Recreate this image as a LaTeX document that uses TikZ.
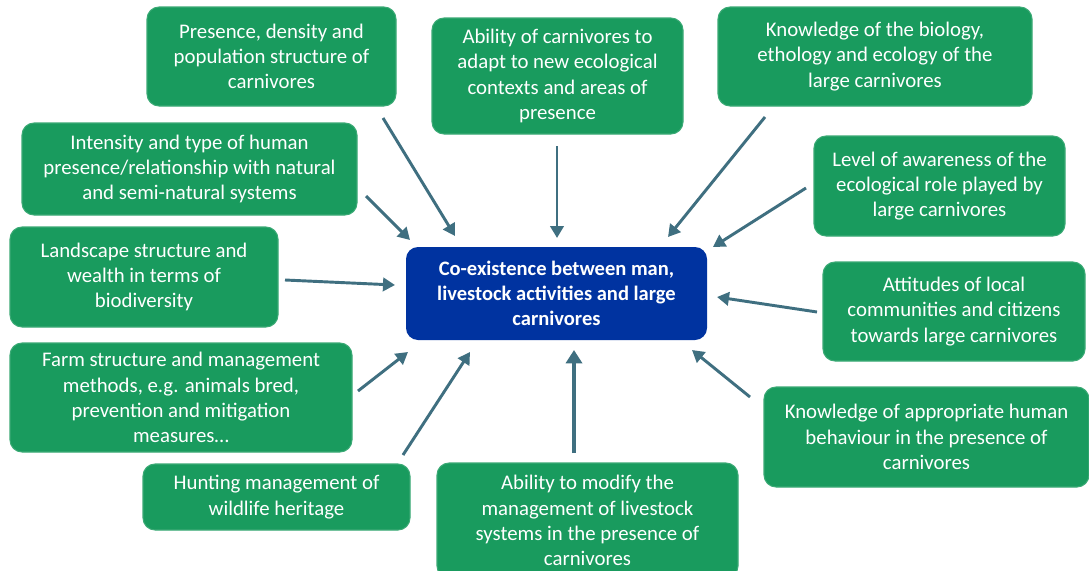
\documentclass[tikz,border=0pt]{standalone}
\usepackage{fontspec}
\setmainfont{Carlito}
\usetikzlibrary{arrows.meta}
\definecolor{boxgreen}{HTML}{199B5E}
\definecolor{coreblue}{HTML}{0033A0}
\definecolor{arrowc}{HTML}{3F6F80}
\tikzset{
  factor/.style={draw=boxgreen!85!white, line width=0.8pt, fill=boxgreen, rounded corners=9pt,
    text=white, align=center, inner sep=2pt,
    font=\fontsize{15.6}{18.9}\selectfont},
  core/.style={fill=coreblue, rounded corners=9pt, text=white, align=center,
    font=\fontsize{15.4}{18.9}\selectfont\bfseries},
  link/.style={draw=arrowc, line width=2.2pt, -{Triangle[length=9pt,width=10pt]}},
  biglink/.style={draw=arrowc, line width=3.6pt, -{Triangle[length=10pt,width=12pt]}}
}
\begin{document}
\begin{tikzpicture}[x=0.75pt,y=-0.75pt]
\useasboundingbox (0,0) rectangle (1089,571);
\fill[white] (0,0) rectangle (1089,571);

% surrounding factors
\node[factor, minimum width=186.75pt, minimum height=74.25pt] (presence) at (271.5,56.5)
  {Presence, density and\\population structure of\\carnivores};
\node[factor, minimum width=188.25pt, minimum height=87pt] (adapt) at (557.5,76)
  {Ability of carnivores to\\adapt to new ecological\\contexts and areas of\\presence};
\node[factor, minimum width=235.5pt, minimum height=74.25pt] (biology) at (875,56.5)
  {Knowledge of the biology,\\ethology and ecology of the\\large carnivores};
\node[factor, minimum width=251.25pt, minimum height=69pt] (intensity) at (189.5,169)
  {Intensity and type of human\\presence/relationship with natural\\and semi-natural systems};
\node[factor, minimum width=188.25pt, minimum height=75pt] (awareness) at (939.5,186)
  {Level of awareness of the\\ecological role played by\\large carnivores};
\node[factor, minimum width=201pt, minimum height=75pt] (landscape) at (144,277)
  {Landscape structure and\\wealth in terms of\\biodiversity};
\node[factor, minimum width=196.5pt, minimum height=74.25pt] (attitudes) at (954,311.5)
  {Attitudes of local\\communities and citizens\\towards large carnivores};
\node[factor, minimum width=256.5pt, minimum height=81.75pt] (farm) at (181,397.5)
  {Farm structure and management\\methods, e.g. animals bred,\\prevention and mitigation\\measures\dots};
\node[factor, minimum width=243.75pt, minimum height=75pt] (behaviour) at (926.5,437)
  {Knowledge of appropriate human\\behaviour in the presence of\\carnivores};
\node[factor, minimum width=200.25pt, minimum height=49.5pt] (hunting) at (276.5,497)
  {Hunting management of\\wildlife heritage};
\node[factor, minimum width=225.75pt, minimum height=86.25pt] (modify) at (587.5,520.5)
  {Ability to modify the\\management of livestock\\systems in the presence of\\carnivores};

% central theme
\node[core, minimum width=225.75pt, minimum height=69.75pt] (centre) at (556.5,293.5)
  {Co-existence between man,\\livestock activities and large\\carnivores};

% arrow end points
\coordinate (s1) at (383,118);  \coordinate (e1) at (455,236);
\coordinate (s2) at (557,146);  \coordinate (e2) at (557,238);
\coordinate (s3) at (765,117);  \coordinate (e3) at (668,237);
\coordinate (s4) at (366,196);  \coordinate (e4) at (410,240);
\coordinate (s5) at (806,188);  \coordinate (e5) at (713,247);
\coordinate (s6) at (285,280);  \coordinate (e6) at (395,285);
\coordinate (s7) at (817,312);  \coordinate (e7) at (717,297);
\coordinate (s8) at (358,391);  \coordinate (e8) at (408,352);
\coordinate (s9) at (403,455);  \coordinate (e9) at (470,352);
\coordinate (s10) at (574,453); \coordinate (e10) at (574,350);
\coordinate (s11) at (750,397); \coordinate (e11) at (692,350);

\draw[link] (s1) -- (e1);
\draw[link] (s2) -- (e2);
\draw[link] (s3) -- (e3);
\draw[link] (s4) -- (e4);
\draw[link] (s5) -- (e5);
\draw[link] (s6) -- (e6);
\draw[link] (s7) -- (e7);
\draw[link] (s8) -- (e8);
\draw[link] (s9) -- (e9);
\draw[biglink] (s10) -- (e10);
\draw[link] (s11) -- (e11);
\end{tikzpicture}
\end{document}
